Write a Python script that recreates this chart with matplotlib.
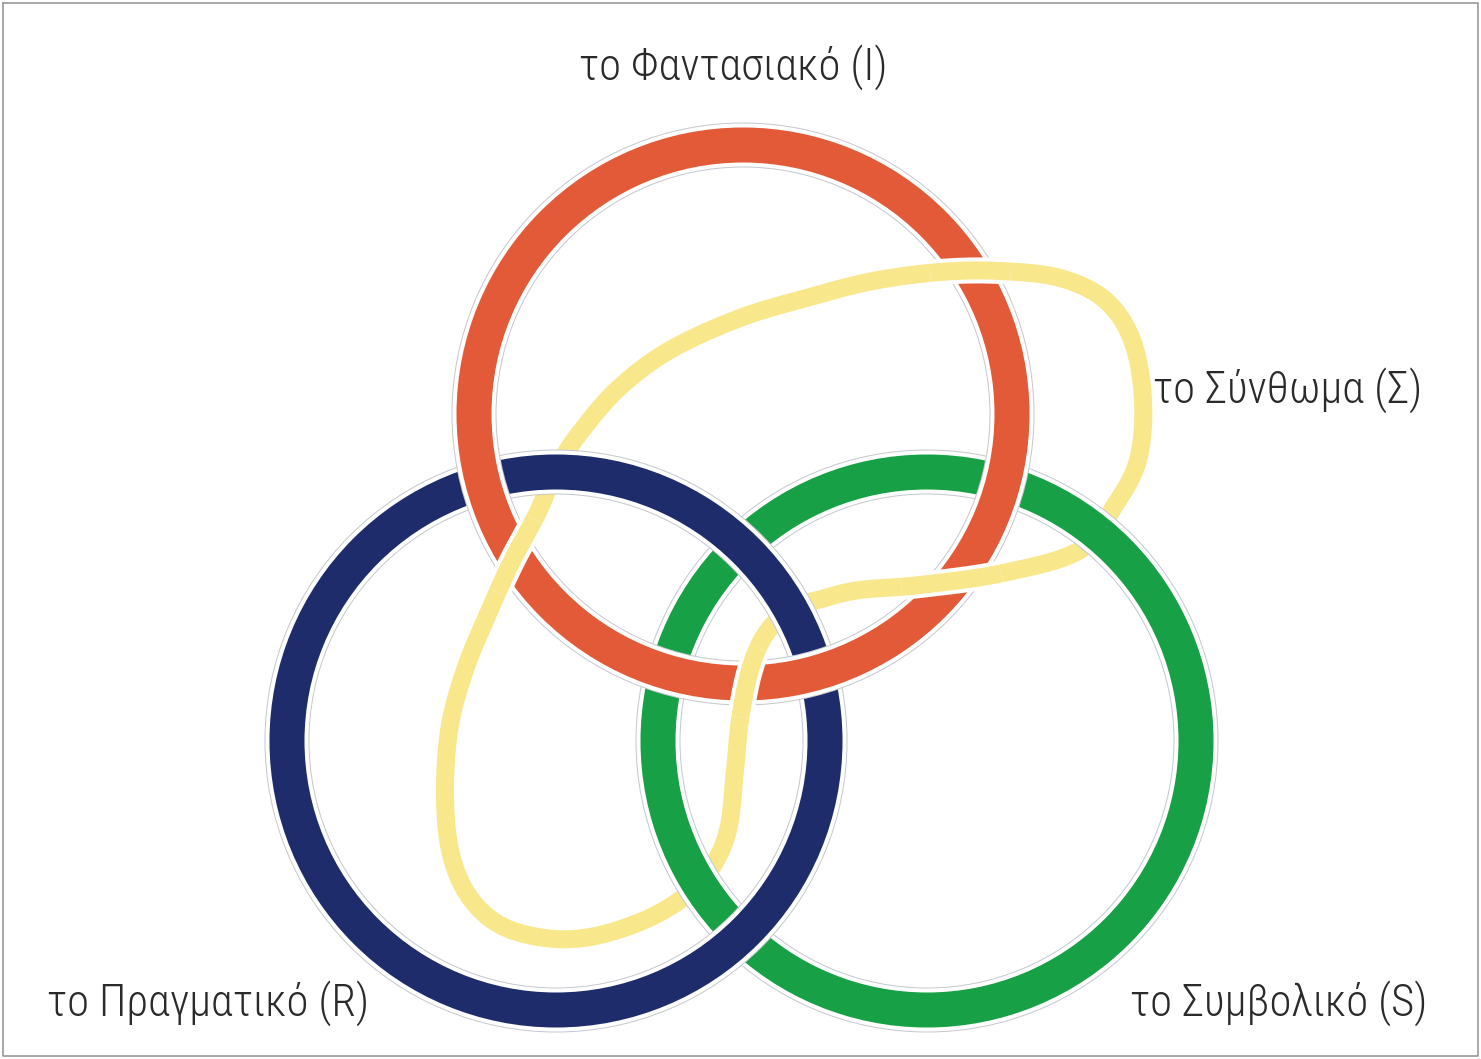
import numpy as np
import matplotlib
matplotlib.use("Agg")
import matplotlib.pyplot as plt
from matplotlib import font_manager
from matplotlib.patches import Circle, Polygon

# ---------------- data ----------------
ring_names = ["Imaginary", "Real", "Symbolic"]
ring_cx = [743, 556, 927]
ring_cy = [414, 741, 741]
ring_r = [269, 269, 269]
ring_colors = ["#E35A38", "#1F2C6C", "#17A046"]

sinthome_x = [538, 557, 582, 620, 670, 740, 810, 873, 940, 1000, 1060, 1105,
              1132, 1143, 1138, 1115, 1080, 1003, 920, 860, 825, 790, 765, 750,
              740, 735, 728, 710, 680, 640, 590, 545, 500, 468, 450, 445, 450,
              466, 488, 511]
sinthome_y = [512, 468, 430, 387, 350, 318, 297, 281, 272, 271, 278, 300,
              340, 400, 460, 505, 550, 573, 585, 590, 598, 610, 635, 670,
              720, 770, 830, 870, 900, 922, 937, 938, 925, 895, 850, 790, 725,
              667, 614, 563]
sinthome_color = "#F9E78B"

labels = ["το Φαντασιακό (I)", "το Σύνθωμα (Σ)", "το Πραγματικό (R)", "το Συμβολικό (S)"]
label_x = [733, 1288, 208, 1279]
label_y = [67, 390, 1003, 1003]

# ---------------- style ----------------
W, H = 1481, 1059
PT = 0.72  # points per pixel at dpi 100
RING_W = 35
YEL_W = 18
GAP = 4
OUTLINE = "#C5C8CE"

avail = {f.name for f in font_manager.fontManager.ttflist}
font_choice = "DejaVu Sans"
for cand in ["Roboto Condensed", "Liberation Sans Narrow", "Open Sans Condensed", "Roboto"]:
    if cand in avail:
        font_choice = cand
        break

fig = plt.figure(figsize=(W / 100, H / 100), dpi=100)
ax = fig.add_axes([0, 0, 1, 1])
ax.set_xlim(0, W)
ax.set_ylim(H, 0)
ax.set_aspect("auto")
ax.axis("off")


def layers(width, color, outline):
    out = []
    if outline:
        out.append((OUTLINE, (width + 2 * GAP + 2) * PT))
    out.append(("white", (width + 2 * GAP) * PT))
    out.append((color, width * PT))
    return out


def ring(cx, cy, r, width, color, z):
    for k, (c, lw) in enumerate(layers(width, color, True)):
        ax.add_patch(Circle((cx, cy), r, fill=False, ec=c, lw=lw, zorder=z + 0.1 * k))


def closed_curve(x, y, width, color, z):
    xy = np.column_stack([x, y])
    for k, (c, lw) in enumerate(layers(width, color, False)):
        ax.add_patch(Polygon(xy, closed=True, fill=False, ec=c, lw=lw, joinstyle="round",
                             zorder=z + 0.1 * k))


def open_piece(x, y, width, color, z):
    for k, (c, lw) in enumerate(layers(width, color, False)):
        ax.plot(x, y, color=c, lw=lw, solid_capstyle="butt", solid_joinstyle="round",
                zorder=z + 0.1 * k)


def catmull_closed(px, py, n=40):
    px = np.asarray(px, float)
    py = np.asarray(py, float)
    m = len(px)
    xs, ys = [], []
    t = np.linspace(0, 1, n, endpoint=False)
    for i in range(m):
        p0 = np.array([px[(i - 1) % m], py[(i - 1) % m]])
        p1 = np.array([px[i], py[i]])
        p2 = np.array([px[(i + 1) % m], py[(i + 1) % m]])
        p3 = np.array([px[(i + 2) % m], py[(i + 2) % m]])
        for tt in t:
            pt = 0.5 * ((2 * p1) + (-p0 + p2) * tt + (2 * p0 - 5 * p1 + 4 * p2 - p3) * tt ** 2
                        + (-p0 + 3 * p1 - 3 * p2 + p3) * tt ** 3)
            xs.append(pt[0])
            ys.append(pt[1])
    return np.array(xs), np.array(ys)


# yellow (sinthome) at the bottom of the stack
yx, yy = catmull_closed(sinthome_x, sinthome_y)
closed_curve(yx, yy, YEL_W, sinthome_color, 1)

# rings: green, blue, red (red over both, blue over green)
for k, idx in enumerate([2, 1, 0]):
    ring(ring_cx[idx], ring_cy[idx], ring_r[idx], RING_W, ring_colors[idx], 2 + k)

# yellow passes over the red ring at every crossing: redraw local pieces
cx, cy, r = ring_cx[0], ring_cy[0], ring_r[0]
d = np.hypot(yx - cx, yy - cy) - r
n = len(yx)
cross = [i for i in range(n) if np.sign(d[i]) != np.sign(d[(i + 1) % n])]
half = RING_W / 2 + GAP + 14
for ci in cross:
    pts = [ci]
    j = ci
    while abs(d[(j - 1) % n]) < half:
        j = (j - 1) % n
        pts.insert(0, j)
    j = ci
    while abs(d[(j + 1) % n]) < half:
        j = (j + 1) % n
        pts.append(j)
    pts = np.array(pts)
    open_piece(yx[pts], yy[pts], YEL_W, sinthome_color, 10)

# labels
for txt, lx, ly in zip(labels, label_x, label_y):
    ax.text(lx, ly, txt, fontsize=32, family=[font_choice, "DejaVu Sans"], fontweight="light",
            ha="center", va="center", color="#2A2A2A", zorder=20)

# frame
ax.plot([3, W - 3, W - 3, 3, 3], [3, 3, H - 3, H - 3, 3], color="#9A9A9A", lw=1.2, zorder=30)

fig.savefig("out.png", dpi=100)
